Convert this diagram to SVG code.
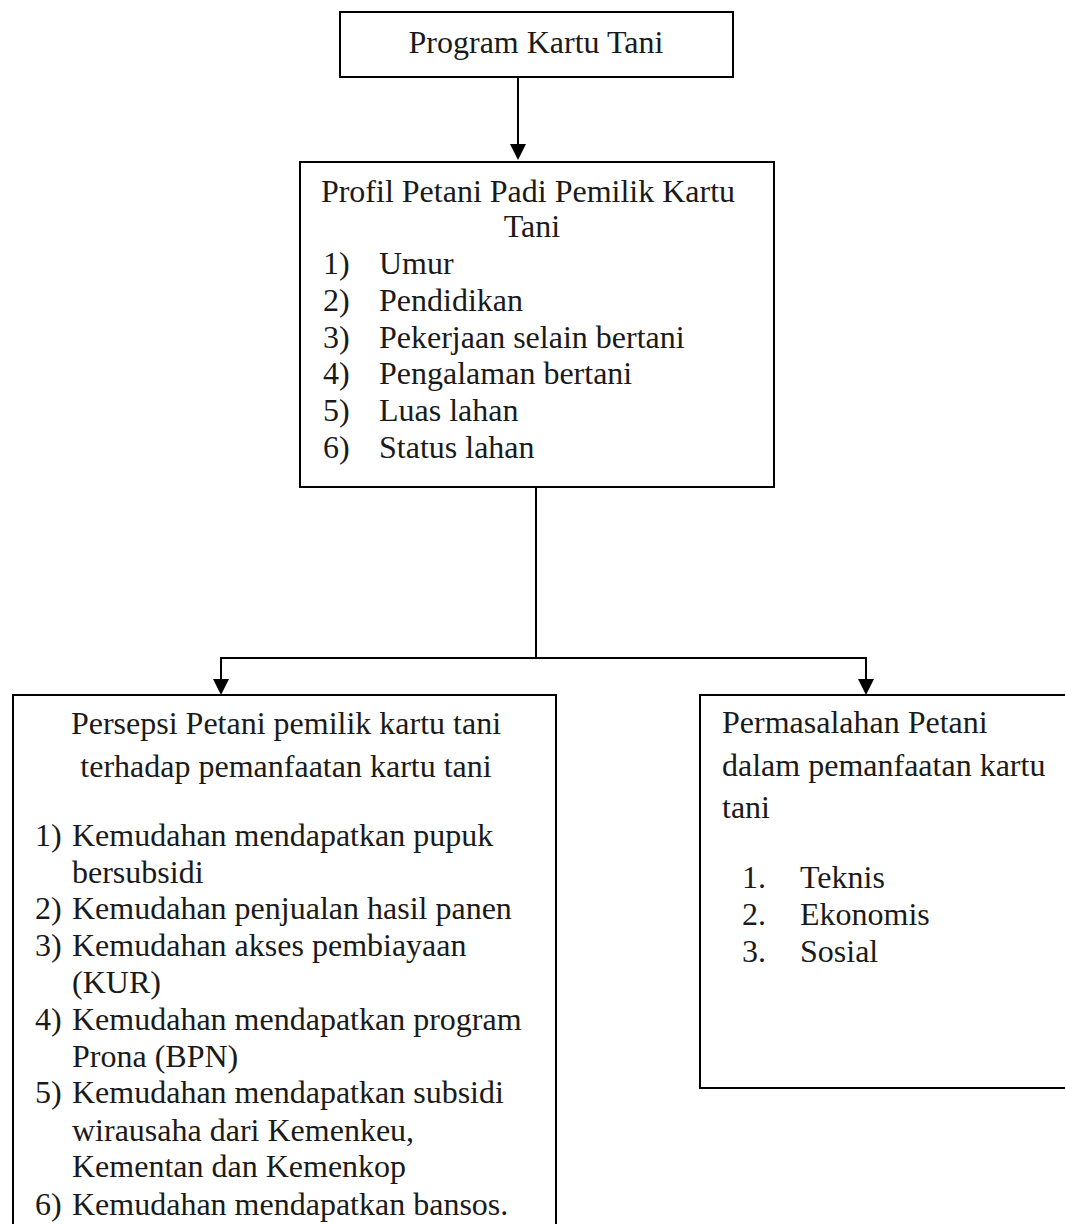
<svg xmlns="http://www.w3.org/2000/svg" width="1065" height="1224" viewBox="0 0 1065 1224">
  <defs>
    <marker id="arrow" viewBox="0 0 16 16" refX="0" refY="8" markerWidth="16" markerHeight="16" markerUnits="userSpaceOnUse" orient="auto">
      <path d="M0,0 L16,8 L0,16 Z" fill="#000"/>
    </marker>
    <style>
      .box { fill: #fff; stroke: #000; stroke-width: 2; }
      .conn { fill: none; stroke: #000; stroke-width: 2; }
      text { font-family: "Liberation Serif", "Times New Roman", serif; font-size: 32px; fill: #1a1a1a; }
      .mid { text-anchor: middle; }
    </style>
  </defs>
  <rect width="1065" height="1224" fill="#fff"/>

  <g id="connectors">
    <path class="conn" d="M518,77 L518,144" marker-end="url(#arrow)"/>
    <path class="conn" d="M536,487 L536,658"/>
    <path class="conn" d="M221,658 L867,658"/>
    <path class="conn" d="M221,657 L221,679" marker-end="url(#arrow)"/>
    <path class="conn" d="M866,657 L866,679" marker-end="url(#arrow)"/>
  </g>

  <g id="node-program">
    <rect class="box" x="340" y="12" width="393" height="65"/>
    <text class="mid" x="536" y="53">Program Kartu Tani</text>
  </g>

  <g id="node-profil">
    <rect class="box" x="300" y="162" width="474" height="325"/>
    <text class="mid" x="528" y="202">Profil Petani Padi Pemilik Kartu</text>
    <text class="mid" x="532" y="237">Tani</text>
    <text x="323" y="274">1)</text><text x="379" y="274">Umur</text>
    <text x="323" y="311">2)</text><text x="379" y="311">Pendidikan</text>
    <text x="323" y="347.6">3)</text><text x="379" y="347.6">Pekerjaan selain bertani</text>
    <text x="323" y="384.4">4)</text><text x="379" y="384.4">Pengalaman bertani</text>
    <text x="323" y="421.2">5)</text><text x="379" y="421.2">Luas lahan</text>
    <text x="323" y="458">6)</text><text x="379" y="458">Status lahan</text>
  </g>

  <g id="node-persepsi">
    <rect class="box" x="13" y="695" width="543" height="560"/>
    <text class="mid" x="286" y="734">Persepsi Petani pemilik kartu tani</text>
    <text class="mid" x="286" y="777">terhadap pemanfaatan kartu tani</text>
    <text x="35" y="845.7">1)</text><text x="72" y="845.7">Kemudahan mendapatkan pupuk</text>
    <text x="72" y="882.5">bersubsidi</text>
    <text x="35" y="919.3">2)</text><text x="72" y="919.3">Kemudahan penjualan hasil panen</text>
    <text x="35" y="956.1">3)</text><text x="72" y="956.1">Kemudahan akses pembiayaan</text>
    <text x="72" y="992.9">(KUR)</text>
    <text x="35" y="1029.7">4)</text><text x="72" y="1029.7">Kemudahan mendapatkan program</text>
    <text x="72" y="1066.5">Prona (BPN)</text>
    <text x="35" y="1103.3">5)</text><text x="72" y="1103.3">Kemudahan mendapatkan subsidi</text>
    <text x="72" y="1140.6">wirausaha dari Kemenkeu,</text>
    <text x="72" y="1177.4">Kementan dan Kemenkop</text>
    <text x="35" y="1214.5">6)</text><text x="72" y="1214.5">Kemudahan mendapatkan bansos.</text>
  </g>

  <g id="node-permasalahan">
    <rect class="box" x="700" y="695" width="400" height="393"/>
    <text x="722" y="733">Permasalahan Petani</text>
    <text x="722" y="776">dalam pemanfaatan kartu</text>
    <text x="722" y="818">tani</text>
    <text x="742" y="888">1.</text><text x="800" y="888">Teknis</text>
    <text x="742" y="925">2.</text><text x="800" y="925">Ekonomis</text>
    <text x="742" y="961.7">3.</text><text x="800" y="961.7">Sosial</text>
  </g>
</svg>
